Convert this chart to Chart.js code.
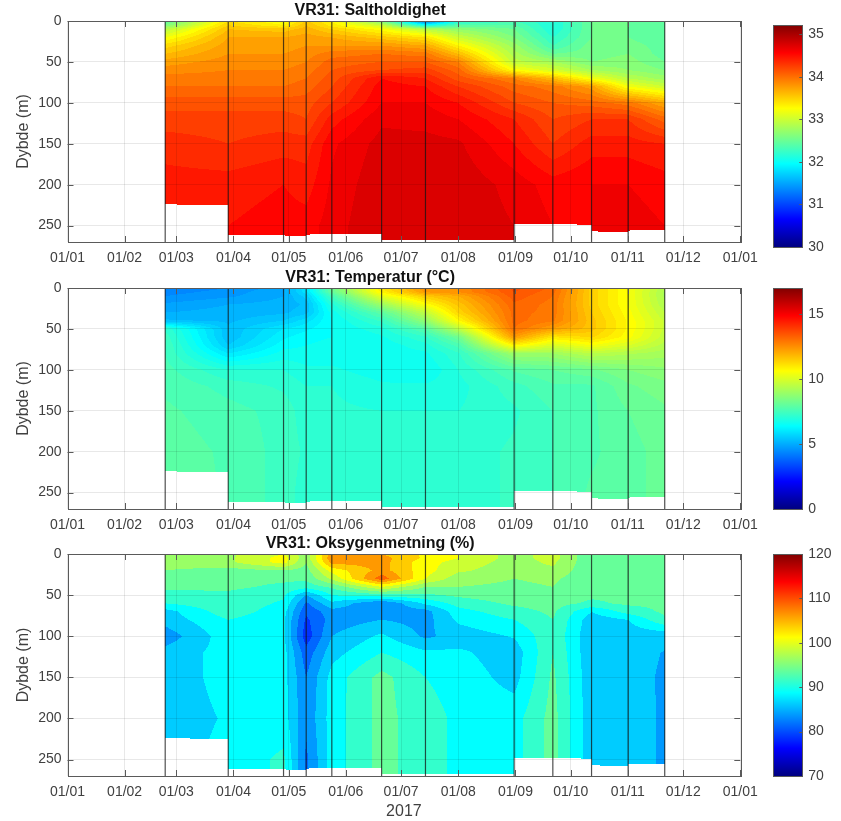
<!DOCTYPE html>
<html>
<head>
<meta charset="utf-8">
<title>VR31</title>
<script src="https://cdn.jsdelivr.net/npm/chart.js@4"></script>
<style>
  body { margin: 0; background: #fff; width: 841px; height: 821px; overflow: hidden; position: relative; }
  canvas { position: absolute; }
</style>
</head>
<body>
<canvas id="c1" width="808" height="270" style="left:0px;top:0px"></canvas>
<canvas id="c2" width="808" height="270" style="left:0px;top:267px"></canvas>
<canvas id="c3" width="808" height="288" style="left:0px;top:533px"></canvas>
<canvas id="b1" width="81" height="270" style="left:760px;top:0px"></canvas>
<canvas id="b2" width="81" height="270" style="left:760px;top:267px"></canvas>
<canvas id="b3" width="81" height="270" style="left:760px;top:533px"></canvas>
<script>
// month ticks, in days since 1 Jan 2017
const monthDays = [0, 31, 59, 90, 120, 151, 181, 212, 243, 273, 304, 334, 365];
const monthLabels = ["01/01", "01/02", "01/03", "01/04", "01/05", "01/06", "01/07", "01/08", "01/09", "01/10", "01/11", "01/12", "01/01"];

// sampling dates (vertical lines)
const stationDays = [53, 87.2, 117.2, 129.5, 143.4, 170.4, 194.2, 242.3, 263.3, 284.3, 304.2, 324];
// bottom depth at both ends of each interval between stations
const bottomStart = [224, 261, 262, 261, 260, 268, 268, 248, 248, 257, 256];
const bottomEnd = [225, 262, 263, 260, 260, 268, 267, 248, 249, 258, 255];

// values: one list per column, one entry per depth
const columnDays = [53, 87.2, 117.2, 129.5, 143.4, 170.4, 194.2, 212, 242.3, 263.3, 284.3, 304.2, 324];
const depths = [0, 5, 10, 20, 30, 40, 50, 60, 70, 80, 100, 120, 150, 200, 250];

const salinity = [
  [32.4, 32.6, 32.9, 33.2, 33.45, 33.6, 33.75, 33.85, 33.95, 34.0, 34.15, 34.25, 34.35, 34.45, 34.45],
  [33.4, 33.5, 33.6, 33.7, 33.75, 33.8, 33.85, 33.9, 33.95, 34.0, 34.15, 34.25, 34.3, 34.45, 34.5],
  [33.2, 33.3, 33.55, 33.7, 33.75, 33.8, 33.85, 33.9, 33.95, 34.0, 34.15, 34.25, 34.35, 34.5, 34.55],
  [33.5, 33.6, 33.65, 33.75, 33.8, 33.85, 33.9, 33.95, 34.0, 34.05, 34.15, 34.2, 34.35, 34.45, 34.55],
  [33.3, 33.35, 33.5, 33.7, 33.8, 33.95, 34.05, 34.1, 34.15, 34.2, 34.3, 34.45, 34.58, 34.62, 34.65],
  [32.6, 33.0, 33.25, 33.55, 33.8, 34.0, 34.1, 34.2, 34.5, 34.55, 34.6, 34.68, 34.74, 34.78, 34.8],
  [31.2, 32.0, 32.9, 33.4, 33.7, 33.95, 34.1, 34.25, 34.4, 34.5, 34.6, 34.66, 34.74, 34.78, 34.78],
  [32.1, 32.4, 32.7, 33.0, 33.3, 33.6, 33.9, 34.05, 34.15, 34.3, 34.5, 34.6, 34.72, 34.78, 34.78],
  [32.3, 32.4, 32.5, 32.6, 32.75, 32.85, 32.95, 33.25, 33.9, 34.05, 34.2, 34.4, 34.5, 34.66, 34.7],
  [32.1, 32.1, 32.1, 32.2, 32.3, 32.5, 32.8, 33.05, 33.6, 33.95, 34.1, 34.2, 34.3, 34.55, 34.6],
  [32.5, 32.5, 32.5, 32.5, 32.55, 32.55, 32.6, 32.8, 33.2, 33.75, 34.05, 34.3, 34.45, 34.6, 34.6],
  [32.5, 32.5, 32.5, 32.5, 32.55, 32.6, 32.65, 32.7, 32.9, 33.2, 33.95, 34.3, 34.45, 34.6, 34.65],
  [32.4, 32.4, 32.4, 32.4, 32.45, 32.45, 32.5, 32.6, 32.75, 33.0, 33.7, 34.05, 34.4, 34.55, 34.6]
];

const temperature = [
  [4.3, 4.4, 4.5, 4.8, 5.0, 5.3, 7.2, 7.4, 7.5, 7.5, 7.6, 7.7, 7.8, 7.9, 8.0],
  [4.5, 4.6, 4.7, 5.0, 5.1, 5.2, 5.3, 5.3, 5.5, 6.0, 7.0, 7.4, 7.6, 7.7, 7.7],
  [4.9, 5.0, 5.0, 5.1, 5.2, 5.5, 6.0, 6.2, 6.4, 6.6, 7.0, 7.2, 7.4, 7.4, 7.4],
  [6.0, 5.9, 5.6, 5.3, 5.4, 5.9, 6.2, 6.4, 6.5, 6.6, 6.8, 7.0, 7.1, 7.2, 7.1],
  [8.2, 8.0, 7.5, 6.9, 6.6, 6.5, 6.5, 6.5, 6.6, 6.6, 6.8, 7.0, 7.05, 7.1, 7.1],
  [11.0, 10.8, 10.2, 9.0, 7.9, 7.3, 6.9, 6.7, 6.6, 6.6, 6.6, 6.8, 7.0, 7.1, 7.1],
  [12.5, 12.3, 11.5, 10.6, 9.6, 8.8, 7.8, 7.2, 6.9, 6.7, 6.5, 6.8, 7.0, 7.1, 7.1],
  [12.5, 12.5, 12.0, 11.6, 11.3, 10.7, 9.5, 8.2, 7.6, 7.2, 7.0, 6.9, 7.0, 7.1, 7.1],
  [13.6, 13.5, 13.4, 13.2, 13.1, 13.1, 13.0, 12.3, 10.8, 9.0, 7.8, 7.4, 7.2, 7.3, 7.3],
  [13.2, 13.1, 13.0, 12.9, 12.9, 12.8, 12.2, 11.0, 10.0, 9.0, 8.0, 7.7, 7.5, 7.5, 7.5],
  [11.4, 11.4, 11.4, 11.4, 11.5, 11.6, 11.6, 11.3, 10.5, 9.5, 8.2, 7.7, 7.7, 7.7, 7.8],
  [10.5, 10.5, 10.5, 10.5, 10.6, 10.7, 10.7, 10.6, 10.0, 9.3, 8.5, 8.2, 8.0, 7.9, 7.9],
  [9.3, 9.2, 9.2, 9.3, 9.5, 9.7, 9.7, 9.6, 9.4, 9.1, 8.7, 8.4, 8.2, 8.1, 8.1]
];

const oxygen = [
  [96, 96, 96, 95, 94, 93.5, 91, 90, 86.5, 86, 83.5, 86, 86, 86, 86],
  [97, 97, 97, 94, 93, 93, 92, 92, 91.5, 90, 89, 88.5, 88.5, 87.8, 88.5],
  [100, 101, 101, 95, 93, 92, 90.5, 89.5, 88.5, 88, 88, 88.5, 88.5, 88.7, 90.5],
  [96, 96, 95, 94, 93, 91, 85, 82, 80.5, 79.5, 78.5, 81, 82.5, 83, 82],
  [106, 107, 106, 101, 98, 93, 90, 87, 84, 83.5, 85, 86.5, 88.5, 88.7, 88.7],
  [105, 106, 106, 106, 109, 100, 91.5, 82.4, 83.6, 85, 88, 90, 93.4, 93.4, 93.4],
  [102, 102, 101, 101, 100, 95, 92, 88, 84, 84, 84.5, 88, 90, 91, 91],
  [100, 100, 99, 98, 96, 95, 93, 91, 89, 88, 86, 88, 89, 89.5, 89.5],
  [96.5, 96.5, 96.5, 96, 95, 94.5, 94, 93, 91.5, 90, 87.7, 86, 86.5, 89, 89],
  [98.5, 98.5, 98, 97, 95.5, 95, 94, 93.5, 93, 92.5, 92, 92.5, 93, 93.5, 93.5],
  [93, 93, 93, 93, 93, 93, 93, 92, 87.6, 86, 85.5, 85.5, 85.7, 85.8, 85.7],
  [93.5, 94.5, 95, 95, 94, 93.5, 93, 93, 91, 87.5, 85.9, 85.8, 85.8, 86, 86],
  [93, 93, 93, 93, 93, 93, 93, 93, 93, 92, 85.6, 84.9, 84.7, 84.7, 84.7]
];

const fontName = "'Liberation Sans', Arial, sans-serif";
const textColor = "#404040";
const boxColor = "#5a5a5a";

// jet colormap
function jet(t) {
  const c = x => Math.round(255 * Math.max(0, Math.min(1, x)));
  return `rgb(${c(1.5 - Math.abs(4 * t - 3))},${c(1.5 - Math.abs(4 * t - 2))},${c(1.5 - Math.abs(4 * t - 1))})`;
}

function lookup(list, v) {
  let i = 0;
  while (i < list.length - 2 && v > list[i + 1]) i++;
  return i;
}

// filled contour bands, painted through the chart's own scales
function contourPlugin(values, cMin, cMax, step) {
  return {
    id: "contourField",
    beforeDatasetsDraw(chart) {
      const { ctx, chartArea: a, scales: { x, y } } = chart;
      const colors = {};
      ctx.save();
      for (let px = Math.ceil(a.left); px < a.right; px++) {
        const day = x.getValueForPixel(px + 0.5);
        if (day < stationDays[0] || day > stationDays[stationDays.length - 1]) continue;
        const s = lookup(stationDays, day);
        const sf = (day - stationDays[s]) / (stationDays[s + 1] - stationDays[s]);
        const bottom = bottomStart[s] + sf * (bottomEnd[s] - bottomStart[s]);
        const c = lookup(columnDays, day);
        const cf = (day - columnDays[c]) / (columnDays[c + 1] - columnDays[c]);
        let runStart = Math.floor(a.top), runBand = null;
        const yEnd = Math.min(Math.round(y.getPixelForValue(bottom)), Math.round(a.bottom));
        for (let py = Math.floor(a.top); py <= yEnd; py++) {
          let band = null;
          if (py < yEnd) {
            const d = Math.min(y.getValueForPixel(py + 0.5), depths[depths.length - 1]);
            const r = lookup(depths, d);
            const rf = (d - depths[r]) / (depths[r + 1] - depths[r]);
            const top = values[c][r] + cf * (values[c + 1][r] - values[c][r]);
            const low = values[c][r + 1] + cf * (values[c + 1][r + 1] - values[c][r + 1]);
            band = Math.floor((top + rf * (low - top)) / step);
          }
          if (band !== runBand) {
            if (runBand !== null) {
              if (!colors[runBand]) colors[runBand] = jet(((runBand + 0.5) * step - cMin) / (cMax - cMin));
              ctx.fillStyle = colors[runBand];
              ctx.fillRect(px, runStart, 1, py - runStart);
            }
            runStart = py;
            runBand = band;
          }
        }
      }
      ctx.restore();
    }
  };
}

// MATLAB style closed box with inward ticks
const boxPlugin = {
  id: "boxTicks",
  afterDraw(chart) {
    const { ctx, chartArea: a, scales: { x, y } } = chart;
    ctx.save();
    ctx.strokeStyle = boxColor;
    ctx.lineWidth = 1;
    ctx.beginPath();
    x.ticks.forEach(t => {
      const p = Math.round(x.getPixelForValue(t.value)) + 0.5;
      ctx.moveTo(p, a.top); ctx.lineTo(p, a.top + 6);
      ctx.moveTo(p, a.bottom); ctx.lineTo(p, a.bottom - 6);
    });
    y.ticks.forEach(t => {
      const p = Math.round(y.getPixelForValue(t.value)) + 0.5;
      ctx.moveTo(a.left, p); ctx.lineTo(a.left + 6, p);
      ctx.moveTo(a.right, p); ctx.lineTo(a.right - 6, p);
    });
    ctx.stroke();
    ctx.strokeRect(Math.round(a.left) + 0.5, Math.round(a.top) + 0.5, Math.round(a.right - a.left), Math.round(a.bottom - a.top));
    ctx.restore();
  }
};

function makePanel(id, title, values, cMin, cMax, step, withYear) {
  const fieldPoints = [];
  columnDays.forEach((d, i) => depths.forEach((z, j) => fieldPoints.push({ x: d, y: z, v: values[i][j] })));
  const datasets = [{ label: title, data: fieldPoints, pointRadius: 0, showLine: false }];
  stationDays.forEach(d => datasets.push({
    data: [{ x: d, y: 0 }, { x: d, y: 270 }],
    showLine: true,
    pointRadius: 0,
    borderColor: "rgba(20,20,20,0.75)",
    borderWidth: 1.2
  }));
  new Chart(document.getElementById(id), {
    type: "scatter",
    data: { datasets },
    plugins: [contourPlugin(values, cMin, cMax, step), boxPlugin],
    options: {
      responsive: false,
      animation: false,
      events: [],
      layout: { padding: { left: 0, right: 67.7, top: 0, bottom: 0 } },
      plugins: {
        legend: { display: false },
        tooltip: { enabled: false },
        title: {
          display: true,
          text: title,
          color: "#111",
          font: { family: fontName, size: 16, weight: "bold" },
          padding: { top: 1, bottom: 0.8 }
        }
      },
      scales: {
        x: {
          type: "linear",
          min: 0,
          max: 365,
          afterBuildTicks: s => { s.ticks = monthDays.map(v => ({ value: v })); },
          afterFit: s => { s.height = withYear ? 45 : 28; },
          grid: { color: "rgba(0,0,0,0.09)", z: 1, drawTicks: false },
          border: { display: false },
          ticks: {
            autoSkip: false,
            maxRotation: 0,
            padding: 8,
            color: textColor,
            font: { family: fontName, size: 14 },
            callback: (v, i) => monthLabels[i]
          },
          title: {
            display: withYear,
            text: "2017",
            color: textColor,
            font: { family: fontName, size: 16 },
            padding: { top: 0, bottom: 0 }
          }
        },
        y: {
          reverse: true,
          min: 0,
          max: 270,
          afterFit: s => { s.width = 67.5; },
          grid: { color: "rgba(0,0,0,0.09)", z: 1, drawTicks: false },
          border: { display: false },
          ticks: {
            stepSize: 50,
            includeBounds: false,
            padding: 6,
            color: textColor,
            font: { family: fontName, size: 14 }
          },
          title: {
            display: true,
            text: "Dybde (m)",
            color: textColor,
            font: { family: fontName, size: 16 },
            padding: { top: 14, bottom: 0 }
          }
        }
      }
    }
  });
}

function makeColorbar(id, cMin, cMax, step, padTop, padBottom) {
  new Chart(document.getElementById(id), {
    type: "bar",
    data: {
      labels: [""],
      datasets: [{
        data: [[cMin, cMax]],
        categoryPercentage: 1,
        barPercentage: 1,
        backgroundColor: ctx => {
          const a = ctx.chart.chartArea;
          if (!a) return "#fff";
          const g = ctx.chart.ctx.createLinearGradient(0, a.bottom, 0, a.top);
          [0, 0.125, 0.375, 0.625, 0.875, 1].forEach(t => g.addColorStop(t, jet(t)));
          return g;
        }
      }]
    },
    plugins: [{
      id: "barBox",
      afterDraw(chart) {
        const { ctx, chartArea: a, scales: { y } } = chart;
        ctx.save();
        ctx.strokeStyle = boxColor;
        ctx.beginPath();
        y.ticks.forEach(t => {
          const p = Math.round(y.getPixelForValue(t.value)) + 0.5;
          ctx.moveTo(a.right, p); ctx.lineTo(a.right - 3, p);
        });
        ctx.stroke();
        ctx.strokeRect(Math.round(a.left) + 0.5, Math.round(a.top) + 0.5, Math.round(a.right - a.left), Math.round(a.bottom - a.top));
        ctx.restore();
      }
    }],
    options: {
      responsive: false,
      animation: false,
      events: [],
      layout: { padding: { left: 13, right: 0, top: padTop, bottom: padBottom } },
      plugins: { legend: { display: false }, tooltip: { enabled: false } },
      scales: {
        x: { display: false },
        y: {
          position: "right",
          min: cMin,
          max: cMax,
          afterFit: s => { s.width = 38.7; },
          grid: { display: false, drawTicks: false },
          border: { display: false },
          ticks: {
            stepSize: step,
            includeBounds: false,
            padding: 6,
            color: textColor,
            font: { family: fontName, size: 14 }
          }
        }
      }
    }
  });
}

makePanel("c1", "VR31: Saltholdighet", salinity, 30, 35.22, 0.1, false);
makePanel("c2", "VR31: Temperatur (°C)", temperature, 0, 17, 0.25, false);
makePanel("c3", "VR31: Oksygenmetning (%)", oxygen, 70, 120, 2.5, true);

makeColorbar("b1", 30, 35.22, 1, 25, 23);
makeColorbar("b2", 0, 17, 5, 21, 28);
makeColorbar("b3", 70, 120, 10, 21, 27);
</script>
</body>
</html>
